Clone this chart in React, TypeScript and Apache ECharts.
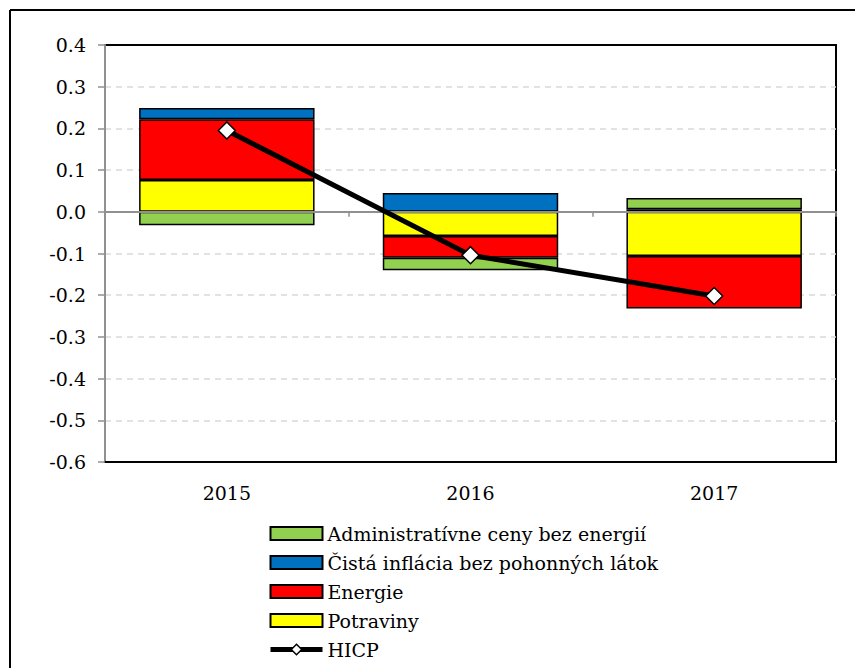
import React, { useEffect, useRef } from "react";
import * as echarts from "echarts";

const categories = ["2015", "2016", "2017"];
const potraviny = [0.076, -0.058, -0.106];
const energie = [0.146, -0.052, -0.126];
const cista = [0.027, 0.045, 0.006];
const admin = [-0.032, -0.03, 0.027];
const hicp = [0.195, -0.104, -0.202];
const legendNames = [
  "Administratívne ceny bez energií",
  "Čistá inflácia bez pohonných látok",
  "Energie",
  "Potraviny",
];

const FONT = "DejaVu Serif";

export default function App() {
  const ref = useRef<HTMLDivElement>(null);
  useEffect(() => {
    if (!ref.current) return;
    const chart = echarts.init(ref.current, undefined, { renderer: "svg" });
    const barStyle = (color: string) => ({
      color,
      borderColor: "#000",
      borderWidth: 1.5,
    });
    const bar = (name: string, data: number[], color: string) => ({
      name,
      type: "bar",
      stack: "total",
      data,
      barWidth: "72%",
      itemStyle: barStyle(color),
      emphasis: { disabled: true },
    });
    chart.setOption({
      animation: false,
      textStyle: { fontFamily: FONT },
      grid: {
        left: 105,
        top: 45,
        right: 19,
        bottom: 206,
        show: true,
        borderColor: "#000",
        borderWidth: 2,
        backgroundColor: "transparent",
      },
      legend: {
        orient: "vertical",
        left: 268,
        top: 524,
        padding: 0,
        itemWidth: 52,
        itemHeight: 13,
        itemGap: 10,
        data: [
          ...legendNames.map((n) => ({ name: n, icon: "rect" })),
          { name: "HICP", lineStyle: { width: 5, color: "#000" }, itemStyle: { color: "#fff", borderColor: "#000", borderWidth: 1.5 } },
        ],
        textStyle: { fontFamily: FONT, fontSize: 19, color: "#000" },
      },
      xAxis: [
        {
          type: "category",
          data: categories,
          position: "bottom",
          axisLine: { onZero: false, lineStyle: { color: "#000", width: 2 } },
          axisTick: { show: false },
          axisLabel: { fontFamily: FONT, fontSize: 19, color: "#000", margin: 21 },
          splitLine: { show: false },
        },
        {
          type: "category",
          data: categories,
          position: "bottom",
          axisLine: { onZero: true, lineStyle: { color: "#909090", width: 2 } },
          axisTick: { show: true, length: 5, lineStyle: { color: "#909090", width: 1.5 } },
          axisLabel: { show: false },
          splitLine: { show: false },
          z: 3,
        },
      ],
      yAxis: {
        type: "value",
        min: -0.6,
        max: 0.4,
        interval: 0.1,
        axisLine: { show: true, lineStyle: { color: "#909090", width: 2 } },
        axisTick: { show: true, length: 7, lineStyle: { color: "#909090", width: 1.5 } },
        axisLabel: {
          fontFamily: FONT,
          fontSize: 19,
          color: "#000",
          margin: 19,
          formatter: (v: number) => v.toFixed(1),
        },
        splitLine: {
          show: true,
          showMinLine: false,
          showMaxLine: false,
          lineStyle: { color: "#d9d9d9", width: 1.5, type: [6, 5] },
        },
      },
      series: [
        bar("Potraviny", potraviny, "#ffff00"),
        bar("Energie", energie, "#ff0000"),
        bar("Čistá inflácia bez pohonných látok", cista, "#0070c0"),
        bar("Administratívne ceny bez energií", admin, "#92d050"),
        {
          name: "HICP",
          type: "line",
          data: hicp,
          symbol: "diamond",
          symbolSize: 17,
          lineStyle: { color: "#000", width: 5 },
          itemStyle: { color: "#fff", borderColor: "#000", borderWidth: 1.5 },
          emphasis: { disabled: true },
          z: 5,
        },
      ],
      graphic: [
        { type: "line", shape: { x1: 10, y1: 10, x2: 855, y2: 10 }, style: { stroke: "#000", lineWidth: 2 } },
        { type: "line", shape: { x1: 10, y1: 10, x2: 10, y2: 668 }, style: { stroke: "#000", lineWidth: 2 } },
      ],
    });
    return () => chart.dispose();
  }, []);
  return (
    <div
      ref={ref}
      style={{ position: "fixed", left: 0, top: 0, width: 855, height: 668, background: "#fff" }}
    />
  );
}
